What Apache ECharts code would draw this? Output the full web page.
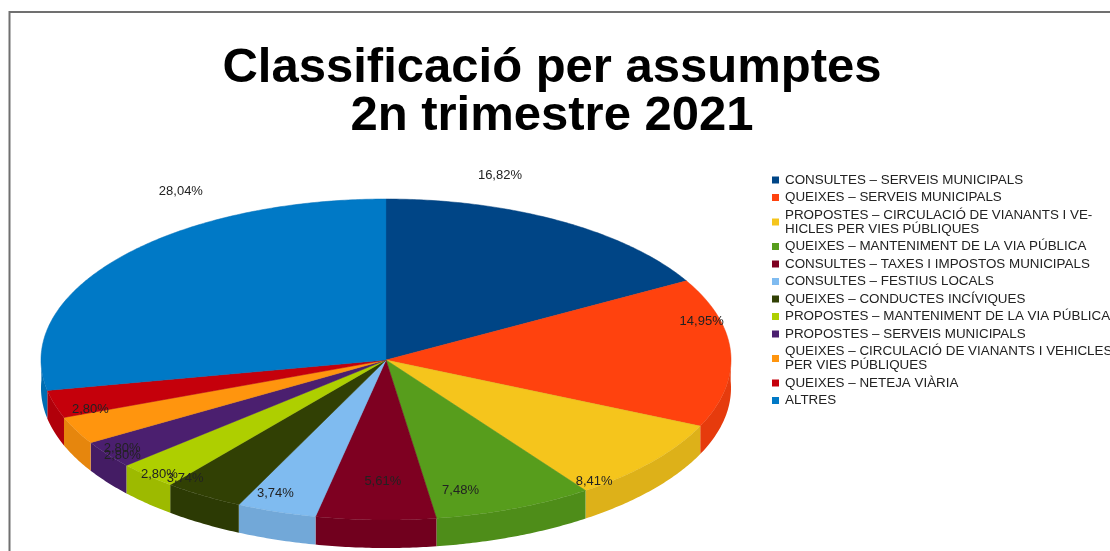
<!DOCTYPE html>
<html>
<head>
<meta charset="utf-8">
<style>html,body{margin:0;padding:0;background:#fff}#c{width:1110px;height:551px}</style>
<script src="https://cdn.jsdelivr.net/npm/echarts@6/dist/echarts.min.js"></script>
</head>
<body>
<div id="c"></div>
<script>
const categories = [
  'CONSULTES – SERVEIS MUNICIPALS',
  'QUEIXES – SERVEIS MUNICIPALS',
  'PROPOSTES – CIRCULACIÓ DE VIANANTS I VE-\nHICLES PER VIES PÚBLIQUES',
  'QUEIXES – MANTENIMENT DE LA VIA PÚBLICA',
  'CONSULTES – TAXES I IMPOSTOS MUNICIPALS',
  'CONSULTES – FESTIUS LOCALS',
  'QUEIXES – CONDUCTES INCÍVIQUES',
  'PROPOSTES – MANTENIMENT DE LA VIA PÚBLICA',
  'PROPOSTES – SERVEIS MUNICIPALS',
  'QUEIXES – CIRCULACIÓ DE VIANANTS I VEHICLES\nPER VIES PÚBLIQUES',
  'QUEIXES – NETEJA VIÀRIA',
  'ALTRES'
];
const values = [16.82, 14.95, 8.41, 7.48, 5.61, 3.74, 3.74, 2.80, 2.80, 2.80, 2.80, 28.04];
const colors = ['#004586','#ff420e','#f5c51c','#579d1c','#7e0021','#7fbbf0','#314004','#aecf00','#4b1f6f','#ff950e','#c5000b','#0079c6'];
const labelOffsets = [[-60,-46],[-29,-31],[-58,20],[-54,-18],[7,-39],[-1,-18],[-18,-17],[12,-1],[15,1],[46,18],[36,5],[61,-66]];

const CX = 386, CY = 360, RX = 345, RY_TOP = 161, RY_BOTTOM = 160, DEPTH = 28;
const total = values.reduce((a, b) => a + b, 0);
function rim(angle) {
  const c = Math.cos(angle);
  return [CX + RX * Math.sin(angle), CY - c * (c > 0 ? RY_TOP : RY_BOTTOM)];
}
function shade(hex, k) {
  const n = parseInt(hex.slice(1), 16);
  const f = v => Math.round(v * k);
  return `rgb(${f(n >> 16)},${f((n >> 8) & 255)},${f(n & 255)})`;
}
function fmt(v) { return v.toFixed(2).replace('.', ',') + '%'; }

const series = categories.map((name, i) => ({
  name,
  type: 'custom',
  coordinateSystem: 'none',
  itemStyle: { color: colors[i] },
  data: [[values[i], values.slice(0, i).reduce((a, b) => a + b, 0)]],
  renderItem(params, api) {
    const v = api.value(0), before = api.value(1);
    const a0 = before / total * 2 * Math.PI, a1 = (before + v) / total * 2 * Math.PI;
    const arc = [];
    const steps = Math.max(4, Math.ceil((a1 - a0) / 0.01));
    for (let s = 0; s <= steps; s++) arc.push(rim(a0 + (a1 - a0) * s / steps));
    const front = arc.filter(p => p[1] >= CY - 8);
    const children = [];
    if (front.length > 1) {
      const wall = front.concat(front.slice().reverse().map(p => [p[0], p[1] + DEPTH]));
      children.push({
        type: 'polygon', z2: 1,
        shape: { points: wall },
        style: { fill: shade(colors[i], 0.9) }
      });
    }
    children.push({
      type: 'polygon', z2: 2,
      shape: { points: [[CX, CY]].concat(arc) },
      style: { fill: colors[i], stroke: shade(colors[i], 0.92), lineWidth: 0.5 }
    });
    const m = rim((a0 + a1) / 2);
    children.push({
      type: 'text', z2: 3,
      style: {
        x: m[0] + labelOffsets[i][0], y: m[1] + labelOffsets[i][1],
        text: fmt(v), align: 'center', verticalAlign: 'middle',
        fontFamily: 'Liberation Sans', fontSize: 13, fill: '#222'
      }
    });
    return { type: 'group', children };
  }
}));

const chart = echarts.init(document.getElementById('c'), null, { renderer: 'canvas' });
chart.setOption({
  animation: false,
  backgroundColor: '#fff',
  title: {
    text: 'Classificació per assumptes\n2n trimestre 2021',
    left: 547, top: 39, textAlign: 'center',
    textStyle: { fontFamily: 'Liberation Sans', fontWeight: 'bold', fontSize: 49, lineHeight: 48, color: '#000' }
  },
  legend: {
    orient: 'vertical', left: 772, top: 173, padding: 0,
    itemWidth: 7, itemHeight: 7, itemGap: 3.5,
    icon: 'rect',
    textStyle: { fontFamily: 'Liberation Sans', fontSize: 13.4, lineHeight: 14, color: '#222', padding: [0,0,0,1] },
    data: categories
  },
  graphic: [{
    type: 'polyline', silent: true,
    shape: { points: [[9.5,551],[9.5,12],[1110,12]] },
    style: { stroke: '#707070', lineWidth: 2, fill: null }
  }],
  series
});
</script>
</body>
</html>
